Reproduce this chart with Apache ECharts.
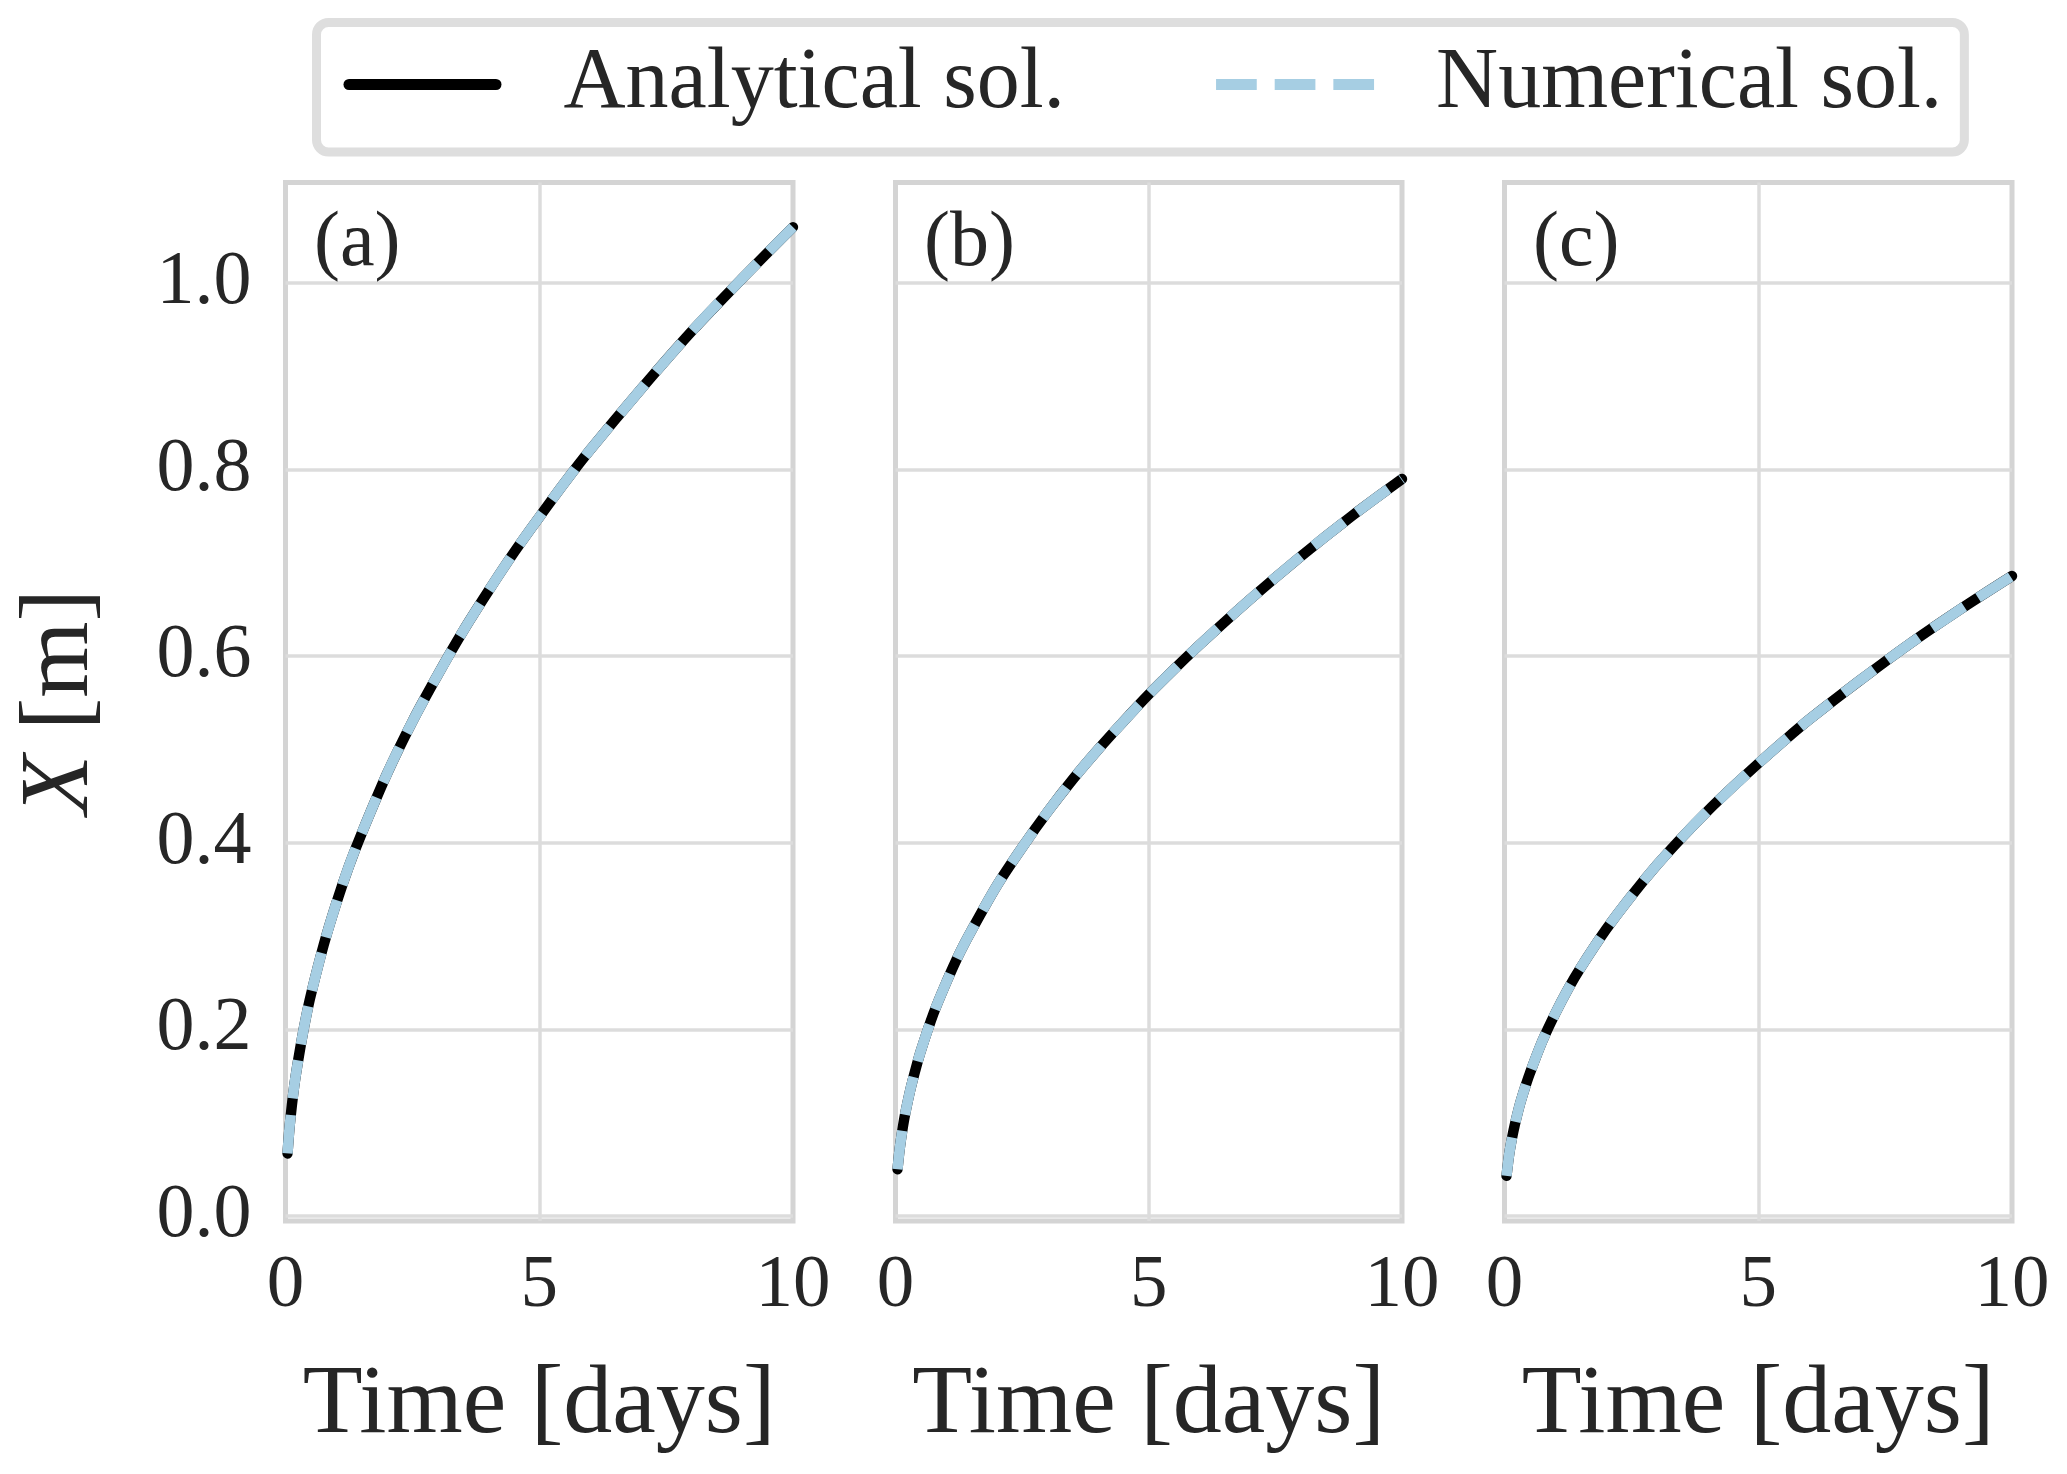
<!DOCTYPE html>
<html><head><meta charset="utf-8">
<script src="https://cdn.jsdelivr.net/npm/echarts@6/dist/echarts.min.js"></script>
<style>html,body{margin:0;padding:0;background:#fff}#c{width:2067px;height:1474px}</style>
</head><body><div id="c"></div><script>
// ---- data ----
const times = [0.04, 0.07, 0.1, 0.15, 0.2, 0.3, 0.4, 0.5, 0.75, 1, 1.25, 1.5, 2, 2.5, 3, 3.5, 4, 4.5, 5, 5.5, 6, 7, 8, 9, 10];
const analyticalA = [0.067, 0.089, 0.106, 0.13, 0.15, 0.183, 0.212, 0.237, 0.29, 0.335, 0.375, 0.41, 0.474, 0.53, 0.58, 0.627, 0.67, 0.711, 0.749, 0.786, 0.821, 0.886, 0.948, 1.005, 1.06];
const analyticalB = [0.05, 0.066, 0.079, 0.097, 0.112, 0.137, 0.158, 0.177, 0.217, 0.25, 0.28, 0.306, 0.354, 0.395, 0.433, 0.468, 0.5, 0.53, 0.559, 0.586, 0.612, 0.661, 0.707, 0.75, 0.79];
const analyticalC = [0.043, 0.057, 0.069, 0.084, 0.097, 0.119, 0.137, 0.153, 0.188, 0.217, 0.243, 0.266, 0.307, 0.343, 0.376, 0.406, 0.434, 0.46, 0.485, 0.509, 0.532, 0.574, 0.614, 0.651, 0.686];
const numericalA = [0.067, 0.089, 0.106, 0.13, 0.15, 0.183, 0.212, 0.237, 0.29, 0.335, 0.375, 0.41, 0.474, 0.53, 0.58, 0.627, 0.67, 0.711, 0.749, 0.786, 0.821, 0.886, 0.948, 1.005, 1.06];
const numericalB = [0.05, 0.066, 0.079, 0.097, 0.112, 0.137, 0.158, 0.177, 0.217, 0.25, 0.28, 0.306, 0.354, 0.395, 0.433, 0.468, 0.5, 0.53, 0.559, 0.586, 0.612, 0.661, 0.707, 0.75, 0.79];
const numericalC = [0.043, 0.057, 0.069, 0.084, 0.097, 0.119, 0.137, 0.153, 0.188, 0.217, 0.243, 0.266, 0.307, 0.343, 0.376, 0.406, 0.434, 0.46, 0.485, 0.509, 0.532, 0.574, 0.614, 0.651, 0.686];
const panelLabels = ['(a)', '(b)', '(c)'];
const xTicks = [0, 5, 10];
const yTicks = [0, 0.2, 0.4, 0.6, 0.8, 1.0];
const seriesNames = ['Analytical sol.', 'Numerical sol.'];

// ---- styling ----
const FONT = '"Liberation Serif", "DejaVu Serif", serif';
const TXT = '#262626';
const SPINE = '#d4d4d4';
const GRIDC = '#dcdcdc';
const BLUE = '#a6cee3';
const gridBoxes = [{left: 285.5, width: 507.5}, {left: 895.5, width: 506.5}, {left: 1504.5, width: 507.5}];
const analytical = [analyticalA, analyticalB, analyticalC];
const numerical = [numericalA, numericalB, numericalC];
const pair = (ys) => times.map((t, i) => [t, ys[i]]);

// legend handle shapes (158 x 11 boxes)
const solidIcon = 'path://M5.5,0H152.5A5.5,5.5,0,0,1,152.5,11H5.5A5.5,5.5,0,0,1,5.5,0Z';
const dashIcon = 'path://M0,0h40.7v11h-40.7z M58.65,0h40.7v11h-40.7z M117.3,0h40.7v11h-40.7z';

const grids = [], xAxes = [], yAxes = [], series = [], titles = [];
gridBoxes.forEach((g, i) => {
  grids.push({left: g.left, width: g.width, top: 182.5, height: 1038.5, show: true,
    borderColor: SPINE, borderWidth: 5, backgroundColor: 'transparent', containLabel: false});
  xAxes.push({type: 'value', gridIndex: i, min: 0, max: 10,
    axisLine: {show: false},
    axisTick: {show: false, customValues: [5]},
    axisLabel: {customValues: xTicks, fontSize: 75, color: TXT, fontFamily: FONT, margin: 28},
    splitLine: {show: true, lineStyle: {color: GRIDC, width: 3.5}},
    name: 'Time [days]', nameLocation: 'middle', nameGap: 136,
    nameTextStyle: {fontSize: 98, color: TXT, fontFamily: FONT}
  });
  yAxes.push({type: 'value', gridIndex: i, min: -0.0054, max: 1.1078,
    axisLine: {show: false},
    axisTick: {show: false, customValues: yTicks},
    axisLabel: {show: i === 0, customValues: yTicks, formatter: v => v.toFixed(1),
      fontSize: 76, color: TXT, fontFamily: FONT, margin: 34},
    splitLine: {show: true, lineStyle: {color: GRIDC, width: 3.5}},
    name: i === 0 ? '{i|X} [m]' : '', nameLocation: 'middle', nameGap: 175,
    nameTextStyle: {fontSize: 98, color: TXT, fontFamily: FONT,
      rich: {i: {fontStyle: 'italic', fontSize: 98, color: TXT, fontFamily: FONT}}}
  });
  series.push({name: seriesNames[0], type: 'line', xAxisIndex: i, yAxisIndex: i,
    data: pair(analytical[i]), symbol: 'none', smooth: 0.3, z: 2,
    lineStyle: {color: '#000', width: 10.4, cap: 'round'}, itemStyle: {color: '#000'}});
  series.push({name: seriesNames[1], type: 'line', xAxisIndex: i, yAxisIndex: i,
    data: pair(numerical[i]), symbol: 'none', smooth: 0.3, z: 3,
    lineStyle: {color: BLUE, width: 10.4, type: [38.7, 16.3], cap: 'butt'}, itemStyle: {color: BLUE}});
  titles.push({text: panelLabels[i], left: g.left + 23.5, top: 201, padding: 5,
    textStyle: {fontSize: 78, fontWeight: 'normal', color: TXT, fontFamily: FONT}});
});

const chart = echarts.init(document.getElementById('c'), null, {renderer: 'canvas'});
chart.setOption({
  animation: false,
  backgroundColor: '#fff',
  title: titles,
  legend: {
    data: [{name: seriesNames[0], icon: solidIcon}, {name: seriesNames[1], icon: dashIcon}],
    left: 316.5, top: 22.5, orient: 'horizontal',
    padding: [19, 22, 24.5, 27], itemGap: 151, itemWidth: 158, itemHeight: 11,
    itemStyle: {borderWidth: 0},
    borderColor: '#dedede', borderWidth: 9, borderRadius: 12, backgroundColor: '#fff',
    textStyle: {fontSize: 86, color: TXT, fontFamily: FONT, padding: [0, 0, 0, 57]},
    selectedMode: false
  },
  grid: grids, xAxis: xAxes, yAxis: yAxes, series: series
});
</script></body></html>
